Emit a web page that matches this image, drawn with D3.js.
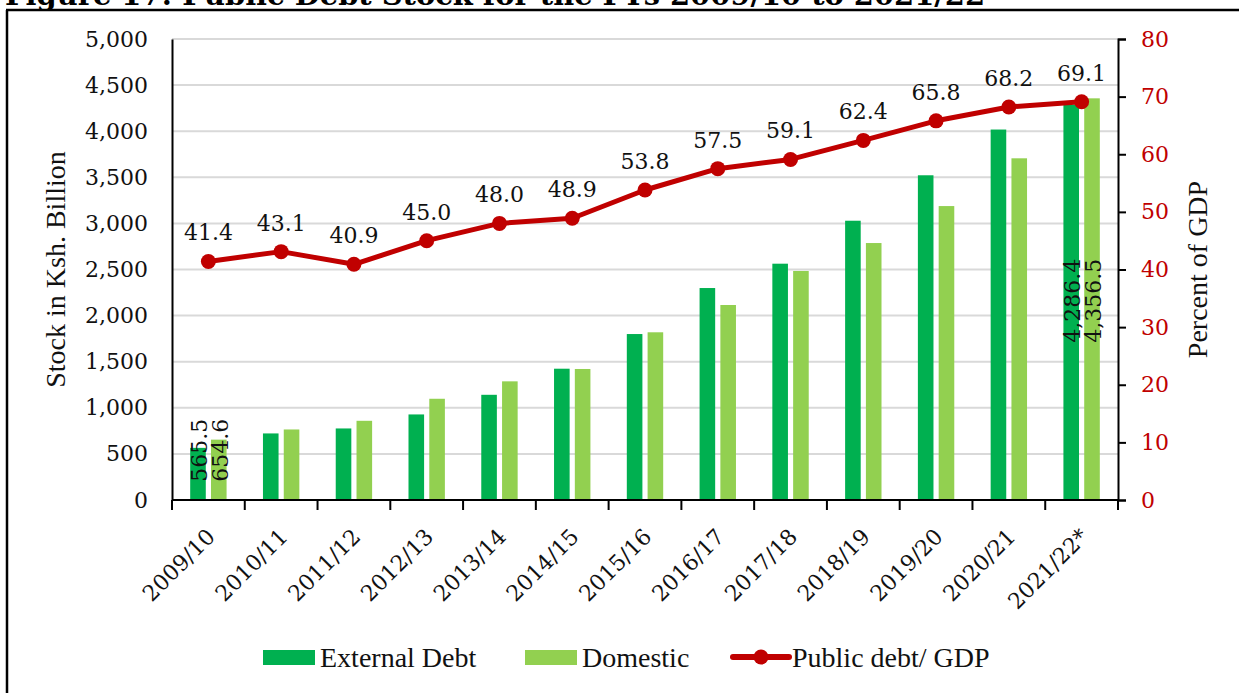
<!DOCTYPE html>
<html>
<head>
<meta charset="utf-8">
<script src="https://cdn.jsdelivr.net/npm/d3@7"></script>
<style>
  body { margin: 0; background: #fff; }
  svg { display: block; }
</style>
</head>
<body>
<div id="chart"></div>
<script>
// data
var years = ["2009/10", "2010/11", "2011/12", "2012/13", "2013/14", "2014/15", "2015/16",
             "2016/17", "2017/18", "2018/19", "2019/20", "2020/21", "2021/22*"];
var external = [565.5, 722, 776, 928, 1141, 1424, 1800, 2299, 2563, 3029, 3522, 4018, 4286.4];
var domestic = [654.6, 765, 859, 1098, 1287, 1421, 1819, 2115, 2484, 2787, 3188, 3706, 4356.5];
var debtGdp = [41.4, 43.1, 40.9, 45.0, 48.0, 48.9, 53.8, 57.5, 59.1, 62.4, 65.8, 68.2, 69.1];
var leftTicks = [0, 500, 1000, 1500, 2000, 2500, 3000, 3500, 4000, 4500, 5000];
var rightTicks = [0, 10, 20, 30, 40, 50, 60, 70, 80];
// only first and last pair carry value labels (and they sit where excel left them)
var barLabelYears = ["2009/10", "2021/22*"];
var barLabelMid = [540, 2160];

var W = 1239, H = 693;
var numFont = "'DejaVu Serif', serif";
var txtFont = "'Liberation Serif', 'Times New Roman', serif";
var red = "#C00000";

var svg = d3.select("#chart").append("svg")
    .attr("width", W)
    .attr("height", H);

// title, cut off by the top of the page
svg.append("text")
    .attr("x", 5)
    .attr("y", 5)
    .attr("font-family", numFont)
    .attr("font-weight", "bold")
    .attr("font-size", 27)
    .attr("textLength", 980)
    .attr("lengthAdjust", "spacingAndGlyphs")
    .text("Figure 17: Public Debt Stock for the FYs 2009/10 to 2021/22");

// frame
svg.append("line").attr("x1", 6).attr("x2", W).attr("y1", 10).attr("y2", 10)
    .attr("stroke", "#000").attr("stroke-width", 2.5);
svg.append("line").attr("x1", 7).attr("x2", 7).attr("y1", 10).attr("y2", H)
    .attr("stroke", "#000").attr("stroke-width", 2.5);

var plotL = 172, plotR = 1118, plotT = 39, plotB = 500;

var x = d3.scaleBand().domain(years).range([plotL, plotR]);
var x1 = d3.scaleBand().domain(["ext", "dom"])
    .range([x.bandwidth() * 0.25, x.bandwidth() * 0.75])
    .paddingInner(0.25);
var y = d3.scaleLinear().domain([0, 5000]).range([plotB, plotT]);
var y2 = d3.scaleLinear().domain([0, 80]).range([plotB, plotT]);

// gridlines
svg.append("g").selectAll("line")
    .data(leftTicks.filter(function(d) { return d > 0; }))
    .enter().append("line")
    .attr("x1", plotL).attr("x2", plotR)
    .attr("y1", function(d) { return y(d); })
    .attr("y2", function(d) { return y(d); })
    .attr("stroke", "#d9d9d9")
    .attr("stroke-width", 2);

// bars
var groups = svg.append("g").selectAll("g")
    .data(years)
    .enter().append("g")
    .attr("transform", function(d) { return "translate(" + x(d) + ",0)"; });

groups.append("rect")
    .attr("x", x1("ext"))
    .attr("width", x1.bandwidth())
    .attr("y", function(d, i) { return y(external[i]); })
    .attr("height", function(d, i) { return plotB - y(external[i]); })
    .attr("fill", "#00B050");

groups.append("rect")
    .attr("x", x1("dom"))
    .attr("width", x1.bandwidth())
    .attr("y", function(d, i) { return y(domestic[i]); })
    .attr("height", function(d, i) { return plotB - y(domestic[i]); })
    .attr("fill", "#92D050");

// left axis
var yAxis = svg.append("g")
    .attr("transform", "translate(" + plotL + ",0)")
    .call(d3.axisLeft(y).tickValues(leftTicks).tickSize(0).tickPadding(24).tickFormat(d3.format(",")));
yAxis.select(".domain").attr("stroke", "#000").attr("stroke-width", 2);
yAxis.selectAll("text").attr("font-family", numFont).attr("font-size", 22).attr("fill", "#111");

// right axis
var y2Axis = svg.append("g")
    .attr("transform", "translate(" + plotR + ",0)")
    .call(d3.axisRight(y2).tickValues(rightTicks).tickSize(8).tickPadding(15));
y2Axis.select(".domain").attr("stroke", "#000").attr("stroke-width", 2);
y2Axis.selectAll(".tick line").attr("stroke", "#000").attr("stroke-width", 2);
y2Axis.selectAll("text").attr("font-family", numFont).attr("font-size", 22).attr("fill", red);

// bottom axis: ticks sit on the band edges
var xAxis = svg.append("g");
xAxis.append("line")
    .attr("x1", plotL).attr("x2", plotR)
    .attr("y1", plotB).attr("y2", plotB)
    .attr("stroke", "#000").attr("stroke-width", 2);
xAxis.selectAll(".edge")
    .data(years.concat(["end"]))
    .enter().append("line")
    .attr("class", "edge")
    .attr("x1", function(d) { return d === "end" ? plotR : x(d); })
    .attr("x2", function(d) { return d === "end" ? plotR : x(d); })
    .attr("y1", plotB).attr("y2", plotB + 10)
    .attr("stroke", "#000").attr("stroke-width", 2);
xAxis.selectAll(".cat")
    .data(years)
    .enter().append("text")
    .attr("class", "cat")
    .attr("transform", function(d) {
        return "translate(" + (x(d) + x.bandwidth() / 2 + 8) + "," + (plotB + 38) + ") rotate(-45)";
    })
    .attr("text-anchor", "end")
    .attr("font-family", numFont)
    .attr("font-size", 22)
    .attr("fill", "#111")
    .text(function(d) { return d; });

// rotated bar value labels
var fmt1 = d3.format(",.1f");
barLabelYears.forEach(function(yr, k) {
    var i = years.indexOf(yr);
    [["ext", external[i]], ["dom", domestic[i]]].forEach(function(p) {
        var cx = x(yr) + x1(p[0]) + x1.bandwidth() / 2 + 9;
        svg.append("text")
            .attr("transform", "translate(" + cx + "," + y(barLabelMid[k]) + ") rotate(-90)")
            .attr("text-anchor", "middle")
            .attr("font-family", numFont)
            .attr("font-size", 22)
            .attr("fill", "#111")
            .text(fmt1(p[1]));
    });
});

// public debt / GDP line
var line = d3.line()
    .x(function(d, i) { return x(years[i]) + x.bandwidth() / 2; })
    .y(function(d) { return y2(d); });

svg.append("path")
    .datum(debtGdp)
    .attr("d", line)
    .attr("fill", "none")
    .attr("stroke", red)
    .attr("stroke-width", 5)
    .attr("stroke-linejoin", "round");

svg.append("g").selectAll("circle")
    .data(debtGdp)
    .enter().append("circle")
    .attr("cx", function(d, i) { return x(years[i]) + x.bandwidth() / 2; })
    .attr("cy", function(d) { return y2(d); })
    .attr("r", 7.5)
    .attr("fill", red);

svg.append("g").selectAll("text")
    .data(debtGdp)
    .enter().append("text")
    .attr("x", function(d, i) { return x(years[i]) + x.bandwidth() / 2; })
    .attr("y", function(d) { return y2(d) - 21; })
    .attr("text-anchor", "middle")
    .attr("font-family", numFont)
    .attr("font-size", 22)
    .attr("fill", "#111")
    .text(function(d) { return d.toFixed(1); });

// axis titles
svg.append("text")
    .attr("transform", "translate(65," + ((plotT + plotB) / 2) + ") rotate(-90)")
    .attr("text-anchor", "middle")
    .attr("font-family", txtFont)
    .attr("font-size", 28)
    .attr("fill", "#111")
    .text("Stock in Ksh. Billion");

svg.append("text")
    .attr("transform", "translate(1207," + ((plotT + plotB) / 2) + ") rotate(-90)")
    .attr("text-anchor", "middle")
    .attr("font-family", txtFont)
    .attr("font-size", 28)
    .attr("fill", "#111")
    .text("Percent of GDP");

// legend
var legendY = 657;
var leg = svg.append("g");
leg.append("rect").attr("x", 263).attr("y", legendY - 7).attr("width", 52).attr("height", 15).attr("fill", "#00B050");
leg.append("text").attr("x", 320).attr("y", legendY + 10)
    .attr("font-family", txtFont).attr("font-size", 28).attr("fill", "#111").text("External Debt");
leg.append("rect").attr("x", 525).attr("y", legendY - 7).attr("width", 52).attr("height", 15).attr("fill", "#92D050");
leg.append("text").attr("x", 582).attr("y", legendY + 10)
    .attr("font-family", txtFont).attr("font-size", 28).attr("fill", "#111").text("Domestic");
leg.append("line").attr("x1", 733).attr("x2", 789).attr("y1", legendY).attr("y2", legendY)
    .attr("stroke", red).attr("stroke-width", 6).attr("stroke-linecap", "round");
leg.append("circle").attr("cx", 761).attr("cy", legendY).attr("r", 7.5).attr("fill", red);
leg.append("text").attr("x", 792).attr("y", legendY + 10)
    .attr("font-family", txtFont).attr("font-size", 28).attr("fill", "#111").text("Public debt/ GDP");
</script>
</body>
</html>
